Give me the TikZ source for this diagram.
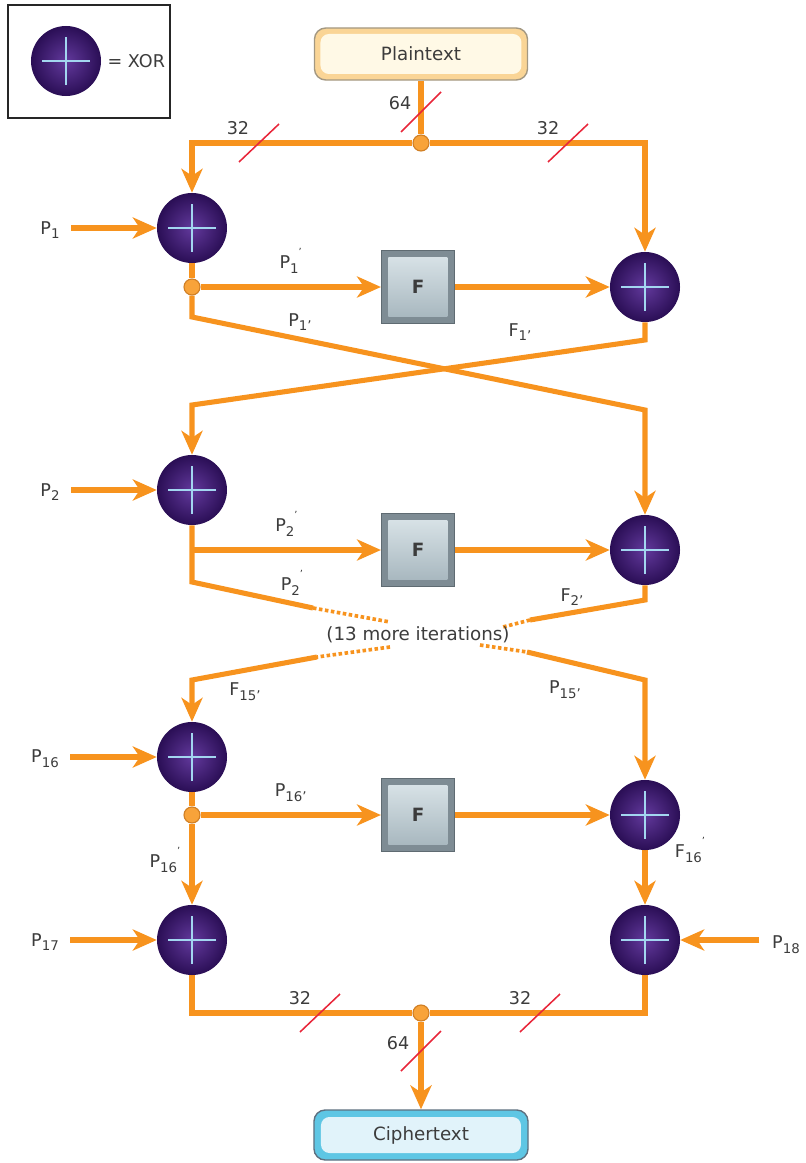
\documentclass[tikz,border=0pt]{standalone}
\usepackage{fontspec}
\setmainfont{DejaVu Sans}
\usepackage{xcolor}
\usepackage{tikz}
\usetikzlibrary{arrows.meta,positioning,calc,backgrounds}

\definecolor{wireor}{HTML}{F7931E}
\definecolor{dotedge}{HTML}{D07F25}
\definecolor{dotfill}{HTML}{F8A33A}
\definecolor{xorin}{HTML}{62399C}
\definecolor{xorout}{HTML}{2A0E55}
\definecolor{xorcross}{HTML}{A3D6F0}
\definecolor{labelgray}{HTML}{3C3C3C}
\definecolor{busred}{HTML}{E8263A}
\definecolor{fedge}{HTML}{7E8C94}
\definecolor{fdark}{HTML}{5F6B72}
\definecolor{ftop}{HTML}{DCE6EA}
\definecolor{fbot}{HTML}{A3B3BB}
\definecolor{plainband}{HTML}{FAD596}
\definecolor{plainedge}{HTML}{A39882}
\definecolor{plainface}{HTML}{FFF9E6}
\definecolor{cipherband}{HTML}{5EC6E4}
\definecolor{cipheredge}{HTML}{5E7080}
\definecolor{cipherface}{HTML}{E1F3FA}

\newcommand{\lsub}[1]{\raisebox{-0.5ex}{\fontsize{9.5}{10}\selectfont #1}}
\newcommand{\lsup}[1]{\raisebox{1.3ex}{\fontsize{7}{8}\selectfont #1}}

\begin{document}
\begin{tikzpicture}[x=0.025cm,y=-0.025cm,
    >={Stealth[length=17pt,width=15pt,inset=5pt]},
    wire/.style={draw=wireor,line width=3.6pt},
    fade/.style={draw=wireor,line width=2.6pt,dash pattern=on 2.5pt off 1.8pt},
    busslash/.style={draw=busred,line width=1.1pt},
    lbl/.style={font=\fontsize{12.5}{14}\selectfont,text=labelgray,inner sep=1pt},
    dot/.style={circle,minimum size=0.4cm,inner sep=0pt,fill=dotfill,draw=dotedge,line width=0.8pt},
    xorop/.style={circle,minimum size=1.75cm,inner sep=0pt,
      inner color=xorin,outer color=xorout,
      path picture={\draw[xorcross,line width=1.5pt]
        (path picture bounding box.center) ++(-24,0) -- ++(48,0)
        (path picture bounding box.center) ++(0,-24) -- ++(0,48);}},
    fbox/.style={rectangle,minimum size=1.825cm,inner sep=0pt,fill=fedge,draw=fdark,
      line width=0.8pt,font=\bfseries\fontsize{13}{15}\selectfont,text=labelgray,
      path picture={\shade[top color=ftop,bottom color=fbot]
        (path picture bounding box.north west) ++(7,7) rectangle ++(59,59);}},
    plainbox/.style={rectangle,rounded corners=8pt,minimum width=5.325cm,minimum height=1.3cm,
      fill=plainband,draw=plainedge,line width=1pt,font=\fontsize{13}{15}\selectfont,text=labelgray,
      path picture={\fill[plainface,rounded corners=6pt]
        (path picture bounding box.north west) ++(6,6) rectangle ++(201,40);}},
    cipherbox/.style={rectangle,rounded corners=8pt,minimum width=5.35cm,minimum height=1.25cm,
      fill=cipherband,draw=cipheredge,line width=1pt,font=\fontsize{13}{15}\selectfont,text=labelgray,
      path picture={\fill[cipherface,rounded corners=6pt]
        (path picture bounding box.north west) ++(7,7) rectangle ++(200,36);}}]

  \useasboundingbox (0,0) rectangle (805,1163);

  % legend
  \draw[line width=1.2pt,black!85] (8,5) rectangle (170,118);
  \node[xorop] (key) at (66,61) {};
  \node[lbl,anchor=west] (keytext) at (106,61) {= XOR};

  % blocks
  \node[plainbox] (plain) at (421,54) {Plaintext};
  \node[dot] (jtop) at (421,143) {};

  \node[xorop] (L1) at (192,228) {};
  \node[dot] (d1) at (192,287) {};
  \node[fbox] (F1) at (418,287) {F};
  \node[xorop] (R1) at (645,287) {};

  \node[xorop] (L2) at (192,490) {};
  \node[fbox] (F2) at (418,550) {F};
  \node[xorop] (R2) at (645,550) {};
  \coordinate (b2) at (192,550);

  \node[xorop] (L16) at (192,757) {};
  \node[dot] (d16) at (192,815) {};
  \node[fbox] (F16) at (418,815) {F};
  \node[xorop] (R16) at (645,815) {};

  \node[xorop] (L17) at (192,940) {};
  \node[xorop] (R17) at (645,940) {};
  \node[dot] (jbot) at (421,1013) {};
  \node[cipherbox] (cipher) at (421,1135) {Ciphertext};

  % subkey labels
  \node[lbl] (p1) at (50,230) {P\lsub{1}};
  \node[lbl] (p2) at (50,492) {P\lsub{2}};
  \node[lbl] (p16) at (45,759) {P\lsub{16}};
  \node[lbl] (p17) at (45,942) {P\lsub{17}};
  \node[lbl] (p18) at (786,945) {P\lsub{18}};

  \begin{scope}[on background layer]
    % split of the plaintext
    \draw[wire] (plain) -- (jtop);
    \draw[wire,->] (jtop) -| (L1);
    \draw[wire,->] (jtop) -| (R1);

    % round 1
    \draw[wire,->,shorten <=7pt] (p1.east |- L1.west) -- (L1.west);
    \draw[wire] (L1) -- (d1);
    \draw[wire,->] (d1) -- (F1.west) node[lbl,midway,above=7pt] (l1a) {P\lsub{1}\lsup{'}};
    \draw[wire,->] (F1) -- (R1);
    \draw[wire,->] (d1) -- (192,317) -- (645,410) -- (R2);
    \draw[wire,->] (R1) -- (645,340) -- (192,405) -- (L2);

    % round 2
    \draw[wire,->,shorten <=7pt] (p2.east |- L2.west) -- (L2.west);
    \draw[wire] (L2) -- (192,582) -- (313,608);
    \draw[fade] (313,608) -- (390,622);
    \draw[wire,->] (b2) -- (F2.west) node[lbl,midway,above=7pt] (l2a) {P\lsub{2}\lsup{'}};
    \draw[wire,->] (F2) -- (R2);
    \draw[wire] (R2) -- (645,600) -- (530,620);
    \draw[fade] (530,620) -- (503,627);

    % rounds 3 to 15 left out
    \draw[fade] (390,647) -- (317,657);
    \draw[wire,->] (317,657) -- (192,680) -- (L16);
    \draw[fade] (480,645) -- (527,652);
    \draw[wire,->] (527,652) -- (645,680) -- (R16);

    % round 16
    \draw[wire,->,shorten <=7pt] (p16.east |- L16.west) -- (L16.west);
    \draw[wire] (L16) -- (d16);
    \draw[wire,->] (d16) -- (F16.west) node[lbl,midway,above=7pt] (l16a) {P\lsub{16'}};
    \draw[wire,->] (F16) -- (R16);
    \draw[wire,->] (d16) -- (L17);
    \draw[wire,->] (R16) -- (R17);

    % output whitening
    \draw[wire,->,shorten <=7pt] (p17.east |- L17.west) -- (L17.west);
    \draw[wire,->,shorten <=8pt] (p18.west |- R17.east) -- (R17.east);
    \draw[wire] (L17) |- (jbot);
    \draw[wire] (R17) |- (jbot);
    \draw[wire,->] (jbot) -- (cipher);
  \end{scope}

  % crossing labels
  \node[lbl] (l1b) at (300,322) {P\lsub{1'}};
  \node[lbl] (f1) at (520,332) {F\lsub{1'}};
  \node[lbl] (l2b) at (292,583) {P\lsub{2}\lsup{'}};
  \node[lbl] (f2) at (572,597) {F\lsub{2'}};
  \node[font=\fontsize{13}{15}\selectfont,text=labelgray] (more) at (418,635) {(13 more iterations)};
  \node[lbl] (f15) at (245,692) {F\lsub{15'}};
  \node[lbl] (p15) at (565,690) {P\lsub{15'}};
  \node[lbl] (l16b) at (165,860) {P\lsub{16}\lsup{'}};
  \node[lbl] (f16) at (690,850) {F\lsub{16}\lsup{'}};

  % bus widths
  \node[lbl] (w64a) at (400,103) {64};
  \draw[busslash] (421,112) ++(-20,20) -- ++(40,-40);
  \node[lbl] (w32a) at (238,128) {32};
  \draw[busslash] (259,143) ++(-20,19) -- ++(40,-38);
  \node[lbl] (w32b) at (548,128) {32};
  \draw[busslash] (568,143) ++(-20,19) -- ++(40,-38);
  \node[lbl] (w32c) at (300,998) {32};
  \draw[busslash] (320,1013) ++(-20,19) -- ++(40,-38);
  \node[lbl] (w32d) at (520,998) {32};
  \draw[busslash] (540,1013) ++(-20,19) -- ++(40,-38);
  \node[lbl] (w64b) at (398,1043) {64};
  \draw[busslash] (421,1051) ++(-20,20) -- ++(40,-40);
\end{tikzpicture}
\end{document}
